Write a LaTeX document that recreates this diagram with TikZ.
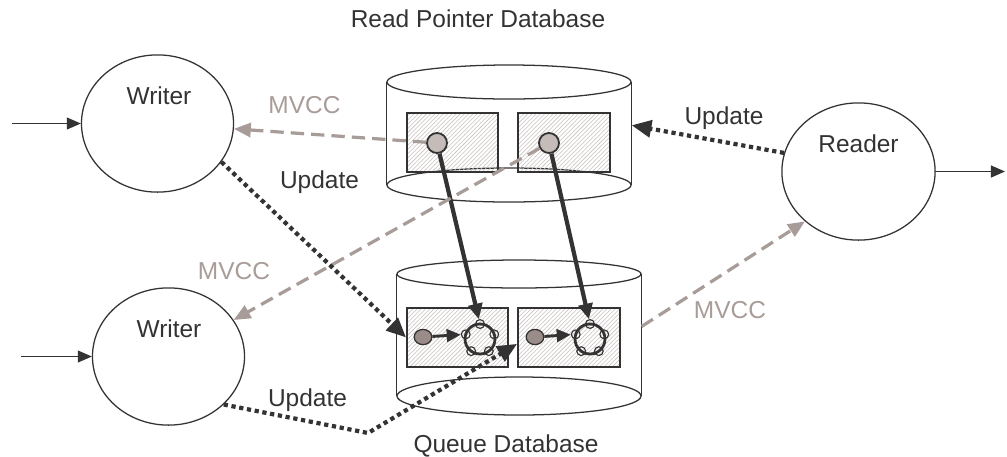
\documentclass[tikz,border=0pt]{standalone}
\usepackage{fontspec}
\setmainfont{Liberation Sans}
\usetikzlibrary{positioning}
\usetikzlibrary{arrows.meta}
\usetikzlibrary{shapes.geometric,calc}
\usetikzlibrary{patterns}

\definecolor{ink}{HTML}{333333}
\definecolor{mvcc}{HTML}{A89C98}
\definecolor{hatch}{HTML}{C9C1BE}
\definecolor{ptrfill}{HTML}{C5BCB9}
\definecolor{headfill}{HTML}{9A8C88}

\tikzset{
  proc/.style={ellipse, draw=ink, line width=0.9pt, inner sep=0pt,
    minimum width=3.8cm, minimum height=3.43cm},
  dbend/.style={ellipse, draw=ink, line width=0.9pt, inner sep=0pt,
    minimum width=6.1cm},
  slot/.style={draw=ink, line width=1.3pt, inner sep=0pt,
    minimum height=1.475cm, pattern=north east lines, pattern color=hatch},
  ptrdot/.style={circle, draw=ink, line width=1.3pt, fill=ptrfill,
    inner sep=0pt, minimum size=0.5cm},
  head/.style={ellipse, draw=ink, line width=0.9pt, fill=headfill,
    inner sep=0pt, minimum width=0.44cm, minimum height=0.38cm},
  ring/.style={circle, draw=ink, line width=2pt, inner sep=0pt,
    minimum size=0.75cm},
  knob/.style={circle, draw=ink, line width=0.8pt, inner sep=0pt,
    minimum size=0.22cm},
  flow/.style={draw=ink, line width=0.9pt, -{Triangle[length=10pt,width=8.5pt]}},
  ptr/.style={draw=ink, line width=3pt, -{Triangle[length=11pt,width=10pt]}},
  link/.style={draw=ink, line width=2.1pt, -{Triangle[length=10pt,width=9pt]}},
  upd/.style={draw=ink, line width=3pt, dash pattern=on 3pt off 2.6pt,
    -{Triangle[length=14pt,width=12pt]}},
  mv/.style={draw=mvcc, line width=2.3pt, dash pattern=on 9.5pt off 5pt,
    -{Triangle[length=12pt,width=10pt]}},
  lbl/.style={text=ink, anchor=base, inner sep=0pt,
    font=\fontsize{17.4}{20}\selectfont},
  mvlbl/.style={lbl, text=mvcc},
}

\begin{document}
\begin{tikzpicture}[x=0.025cm, y=-0.025cm]
\useasboundingbox (0,0) rectangle (1007,456);

% Read pointer database
\node[lbl] (rptitle) at (478,27) {Read Pointer Database};
\node[dbend, minimum height=0.85cm] (rptop) at (509,82) {};
\node[dbend, minimum height=0.85cm] (rpbot) at (509,185) {};
\draw[ink, line width=0.9pt] (rptop.west) -- (rpbot.west)
    (rptop.east) -- (rpbot.east);
\node[slot, minimum width=2.275cm] (rpslotA) at (452.5,142.5) {};
\node[slot, minimum width=2.3cm] (rpslotB) at (564,142.5) {};

% Queue database
\node[lbl] (qtitle) at (506,452) {Queue Database};
\node[dbend, minimum height=0.7cm] (qtop) at (519,274) {};
\node[dbend, minimum height=0.95cm] (qbot) at (519,396) {};
\draw[ink, line width=0.9pt] (qtop.west) -- (qbot.west)
    (qtop.east) -- (qbot.east);
\node[slot, minimum width=2.525cm] (qslotA) at (457.5,337.5) {};
\node[slot, minimum width=2.55cm] (qslotB) at (569,337.5) {};

% Queue heads and rings
\node[head] (headA) at (423,337) {};
\node[head] (headB) at (535,337) {};
\node[ring] (ringA) at (480,339) {};
\node[ring] (ringB) at (590,339) {};
\foreach \a [count=\i] in {270,342,54,126,198}{
  \node[knob] (ringA-\i) at ($(ringA.center)+(\a:15)$) {};
  \node[knob] (ringB-\i) at ($(ringB.center)+(\a:15)$) {};
}
\draw[link] (headA) -- (ringA-5);
\draw[link] (headB) -- (ringB-5);

% Read pointers
\node[ptrdot] (ptrA) at (437,143) {};
\node[ptrdot] (ptrB) at (549,143) {};
\draw[ptr] (ptrA) -- (ringA-1);
\draw[ptr] (ptrB) -- (ringB-1);

% Writers and reader
\node[proc] (writerA) at (157.5,123.5) {};
\node[lbl] (writerAname) at (159,104) {Writer};
\node[proc] (writerB) at (168.5,356.5) {};
\node[lbl] (writerBname) at (169,337) {Writer};
\node[proc, minimum width=3.83cm] (reader) at (858.5,171.5) {};
\node[lbl] (readername) at (858.5,152) {Reader};

\coordinate (inA) at (12,123.5);
\coordinate (inB) at (21,356.5);
\coordinate (outR) at (1005,171.5);
\draw[flow] (inA) -- (writerA);
\draw[flow] (inB) -- (writerB);
\draw[flow] (reader) -- (outR);

% MVCC reads
\draw[mv] (ptrA) -- (writerA);
\node[mvlbl] (mvA) at (304.5,113) {MVCC};
\draw[mv] (ptrB) -- (writerB);
\node[mvlbl] (mvB) at (234,279) {MVCC};
\draw[mv] ($(qtop.east)!0.43!(qbot.east)$) -- (reader.223);
\node[mvlbl] (mvR) at (730,318) {MVCC};

% Updates
\draw[upd] (writerA.329) -- (qslotA.west);
\node[lbl] (updA) at (319.5,188) {Update};
\coordinate (bend) at (368,433);
\draw[upd] (writerB.319) -- (bend) -- (qslotB.187);
\node[lbl] (updB) at (307.5,406.5) {Update};
\draw[upd] (reader.166) -- ($(rptop.east)!0.42!(rpbot.east)$);
\node[lbl] (updR) at (724,124) {Update};

\end{tikzpicture}
\end{document}
